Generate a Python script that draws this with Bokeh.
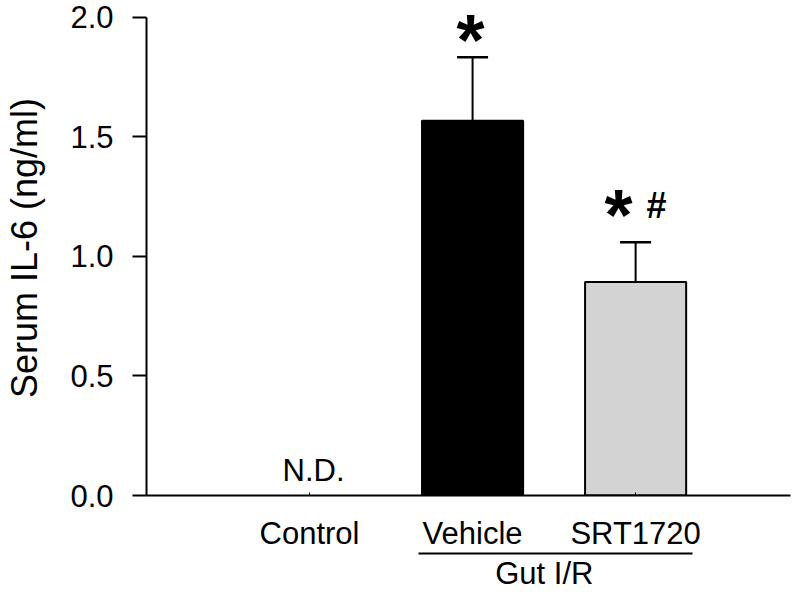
from bokeh.plotting import figure
from bokeh.models import FixedTicker, PrintfTickFormatter, LinearAxis, ColumnDataSource
from bokeh.core.properties import value
from bokeh.embed import file_html
from bokeh.resources import INLINE

# ---- data ----
categories = ["Control", "Vehicle", "SRT1720"]
cat_pos = [1, 2, 3]
means = [None, 1.568, 0.893]          # Control not detected (N.D.)
sems = [None, 0.266, 0.167]
bar_colors = [None, "#000000", "#d3d3d3"]
sig_marks = ["", "*", "*"]
hash_marks = ["", "", "#"]
y_ticks = [0.0, 0.5, 1.0, 1.5, 2.0]
group_label = "Gut I/R"
nd_label = "N.D."
y_label = "Serum IL-6 (ng/ml)"

FONT = "Liberation Sans"
FS = "31px"

p = figure(width=792, height=593, x_range=(0, 3.95), y_range=(0, 2.071),
           output_backend="svg", toolbar_location=None,
           min_border_left=146, min_border_right=2, min_border_top=0, min_border_bottom=95)
p.outline_line_color = None
p.xgrid.visible = False
p.ygrid.visible = False

# bars (only detected groups)
idx = [i for i in range(3) if means[i] is not None]
bx = [cat_pos[i] for i in idx]
bt = [means[i] for i in idx]
bc = [bar_colors[i] for i in idx]
be = [sems[i] for i in idx]
src = ColumnDataSource(dict(x=bx, top=bt, color=bc, err=[t + e for t, e in zip(bt, be)]))
bar_w = 0.62
p.vbar(x="x", top="top", width=bar_w, bottom=0, fill_color="color", line_color="black",
       line_width=2, source=src)

# error bars (upper only)
cap = 0.095
p.segment(x0="x", y0="top", x1="x", y1="err", line_color="black", line_width=2, source=src)
p.segment(x0=[x - cap for x in bx], y0=src.data["err"], x1=[x + cap for x in bx],
          y1=src.data["err"], line_color="black", line_width=2.5)

# significance marks
for i in idx:
    top = means[i] + sems[i]
    if sig_marks[i]:
        has_hash = bool(hash_marks[i])
        p.text(x=[cat_pos[i]], y=[top], text=[sig_marks[i]],
               text_font=value(FONT), text_font_style="bold", text_font_size="72px",
               text_align="center", text_baseline="middle",
               x_offset=(-17 if has_hash else -2), y_offset=(-27 if has_hash else -17))
    if hash_marks[i]:
        p.text(x=[cat_pos[i]], y=[top], text=[hash_marks[i]],
               text_font=value(FONT), text_font_style="bold", text_font_size="36px",
               text_align="center", text_baseline="middle", x_offset=21, y_offset=-37)

# N.D.
for i in range(3):
    if means[i] is None:
        p.text(x=[cat_pos[i]], y=[0], text=[nd_label], text_font=value(FONT),
               text_font_size="31px", text_align="center", text_baseline="middle",
               x_offset=4, y_offset=-25)

# y axis
ya = p.yaxis[0]
ya.bounds = (0, 2.0)
ya.ticker = FixedTicker(ticks=y_ticks)
ya.formatter = PrintfTickFormatter(format="%.1f")
ya.minor_tick_line_color = None
ya.major_tick_in = 0
ya.major_tick_out = 14
ya.major_tick_line_width = 2
ya.axis_line_width = 2
ya.major_label_standoff = 19
ya.major_label_text_font = FONT
ya.major_label_text_font_size = FS
ya.major_label_text_color = "black"
ya.axis_label = y_label
ya.axis_label_text_font = FONT
ya.axis_label_text_font_size = "36px"
ya.axis_label_text_font_style = "normal"
ya.axis_label_text_color = "black"
ya.axis_label_standoff = 22
ya.axis_line_color = "black"
ya.major_tick_line_color = "black"

# x axis (categories)
xa = p.xaxis[0]
xa.ticker = FixedTicker(ticks=cat_pos)
xa.major_label_overrides = {c: n for c, n in zip(cat_pos, categories)}
xa.minor_tick_line_color = None
xa.major_tick_in = 3
xa.major_tick_out = 0
xa.major_tick_line_width = 1
xa.axis_line_width = 2
xa.major_label_standoff = 20
xa.major_label_text_font = FONT
xa.major_label_text_font_size = FS
xa.major_label_text_color = "black"
xa.axis_line_color = "black"

# group axis: underline under Vehicle/SRT1720 with "Gut I/R"
u_left = 2 - bar_w / 2 - 0.02
u_right = 3 + bar_w / 2 + 0.04
g_pos = (u_left + u_right) / 2 - 0.07
ga = LinearAxis(bounds=(u_left, u_right), ticker=FixedTicker(ticks=[g_pos]),
                major_label_overrides={g_pos: group_label},
                axis_line_width=2, axis_line_color="black",
                major_tick_in=0, major_tick_out=0, minor_tick_in=0, minor_tick_out=0,
                major_tick_line_color=None, minor_tick_line_color=None,
                major_label_standoff=2,
                major_label_text_font=FONT, major_label_text_font_size=FS,
                major_label_text_color="black")
p.add_layout(ga, "below")

open("out.html", "w").write(file_html(p, INLINE))
